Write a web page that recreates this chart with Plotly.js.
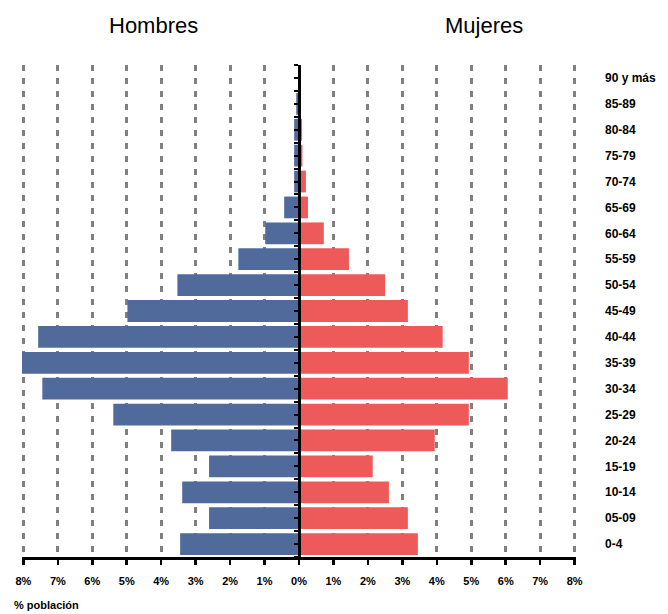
<!DOCTYPE html>
<html>
<head>
<meta charset="utf-8">
<script src="https://cdn.plot.ly/plotly-3.0.1.min.js"></script>
<style>html,body{margin:0;padding:0;background:#fff}#chart{width:668px;height:614px}</style>
</head>
<body>
<div id="chart"></div>
<script>
const ages = ['0-4','05-09','10-14','15-19','20-24','25-29','30-34','35-39','40-44','45-49','50-54','55-59','60-64','65-69','70-74','75-79','80-84','85-89','90 y más'];
const hombres = [3.45, 2.61, 3.39, 2.61, 3.71, 5.39, 7.45, 8.17, 7.57, 4.98, 3.53, 1.76, 0.98, 0.43, 0.14, 0.14, 0.14, 0.08, 0.02];
const mujeres = [3.45, 3.16, 2.61, 2.14, 3.94, 4.93, 6.06, 4.93, 4.17, 3.16, 2.50, 1.45, 0.72, 0.26, 0.20, 0.10, 0.09, 0.04, 0.02];
const xTickVals = [-8,-7,-6,-5,-4,-3,-2,-1,0,1,2,3,4,5,6,7,8];
const xTickText = ['8%','7%','6%','5%','4%','3%','2%','1%','0%','1%','2%','3%','4%','5%','6%','7%','8%'];

const tickFont = {family: 'Liberation Sans, Arial, sans-serif', size: 12, color: '#000', weight: 'bold'};
const ageIndex = ages.map((_, i) => i);

const data = [
  {type: 'bar', orientation: 'h', y: ages, x: hombres.map(v => -v), name: 'Hombres',
   marker: {color: '#506a9b', line: {width: 0}}, hoverinfo: 'skip', width: 0.84},
  {type: 'bar', orientation: 'h', y: ageIndex, x: mujeres, name: 'Mujeres', yaxis: 'y2',
   marker: {color: '#ee5a5a', line: {width: 0}}, hoverinfo: 'skip', width: 0.84}
];

const halfTicks = [];
for (let i = 0; i < ages.length * 2 + 1; i++) halfTicks.push(-0.5 + i * 0.5);

const layout = {
  width: 668, height: 614,
  margin: {l: 22, r: 92, t: 65, b: 57},
  paper_bgcolor: '#fff', plot_bgcolor: '#fff',
  barmode: 'overlay',
  showlegend: false,
  xaxis: {
    range: [-8.04, 8.04], tickvals: xTickVals, ticktext: xTickText,
    showgrid: true, gridcolor: '#808080', gridwidth: 3, griddash: '6px,7px',
    zeroline: false,
    showline: true, linecolor: '#000', linewidth: 2.5,
    ticks: 'outside', ticklen: 5, tickwidth: 2.5, tickcolor: '#000',
    ticklabelstandoff: 7,
    tickfont: {family: 'Liberation Sans, Arial, sans-serif', size: 11, color: '#000', weight: 'bold'},
    fixedrange: true
  },
  yaxis: {
    type: 'category', categoryorder: 'array', categoryarray: ages,
    range: [-0.5, ages.length - 0.5],
    side: 'right', showline: false, showgrid: false, zeroline: false,
    ticks: '', ticklabelstandoff: 28,
    tickfont: tickFont, fixedrange: true
  },
  yaxis2: {
    type: 'linear', overlaying: 'y', anchor: 'free', position: 0.5, side: 'left',
    range: [-0.5, ages.length - 0.5], tickvals: halfTicks,
    showticklabels: false, showgrid: false, zeroline: false,
    showline: true, linecolor: '#000', linewidth: 2.5,
    ticks: 'outside', ticklen: 4, tickwidth: 2, tickcolor: '#000',
    fixedrange: true
  },
  annotations: [
    {text: 'Hombres', xref: 'paper', yref: 'paper', x: 0.2365, y: 1.081, xanchor: 'center', yanchor: 'middle',
     showarrow: false, font: {family: 'Liberation Sans, Arial, sans-serif', size: 22, color: '#000'}},
    {text: 'Mujeres', xref: 'paper', yref: 'paper', x: 0.834, y: 1.081, xanchor: 'center', yanchor: 'middle',
     showarrow: false, font: {family: 'Liberation Sans, Arial, sans-serif', size: 22, color: '#000'}},
    {text: '% población', xref: 'paper', yref: 'paper', x: -0.018, y: -0.0976, xanchor: 'left', yanchor: 'middle',
     showarrow: false, font: {family: 'Liberation Sans, Arial, sans-serif', size: 11, color: '#000', weight: 'bold'}}
  ]
};

Plotly.newPlot('chart', data, layout, {displayModeBar: false, staticPlot: true});
</script>
</body>
</html>
